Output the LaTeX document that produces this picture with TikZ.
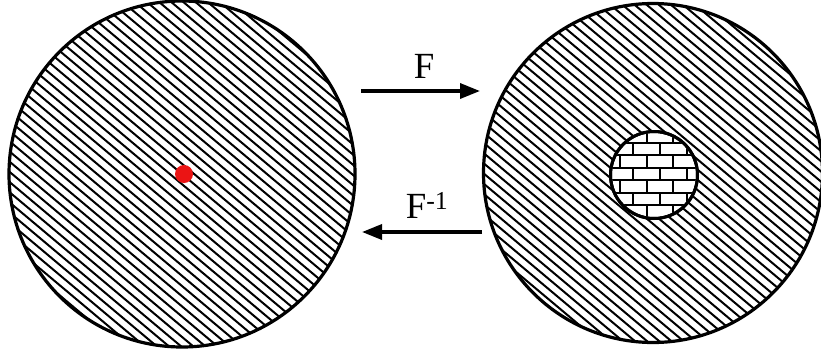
\documentclass[tikz,border=0pt]{standalone}
\usepackage{fontspec}
\setmainfont{Liberation Serif}
\usepackage{tikz}
\usetikzlibrary{arrows.meta}
\definecolor{dotred}{RGB}{235,20,20}

\begin{document}
\begin{tikzpicture}[x=1bp, y=-1bp,
    disc/.style={draw, circle, line width=3.2bp, inner sep=0pt},
    hatch/.style={line width=2bp},
    brick/.style={line width=2bp},
    arr/.style={line width=3.4bp, -{Triangle[length=20bp, width=15bp]}},
    lbl/.style={anchor=base, font=\fontsize{37}{42}\selectfont}]
    \useasboundingbox (0,0) rectangle (821,358);

    % hatching of both discs
    \foreach \cx/\cy/\rr in {182/174/173, 653/173/169.5} {
        \begin{scope}
            \clip (\cx,\cy) circle (\rr);
            \begin{scope}[shift={(\cx,\cy)}, rotate=-40]
                \foreach \k in {-23,...,23}
                    \draw[hatch] (-200,7.8*\k) -- (200,7.8*\k);
            \end{scope}
        \end{scope}
    }

    \node[disc, minimum size=346bp] (domain) at (182,174) {};
    \node[disc, minimum size=339bp] (image) at (653,173) {};
    \node[draw, circle, line width=3bp, fill=white, minimum size=87bp, inner sep=0pt] (hole) at (654,175) {};
    \node[circle, fill=dotred, minimum size=18bp, inner sep=0pt] (pt) at (184,174) {};

    % bricks inside the hole
    \begin{scope}
        \clip (hole.center) circle (42bp);
        \foreach \r in {0,...,7} {
            \pgfmathsetmacro{\yy}{130.2+12.5*\r}
            \pgfmathsetmacro{\sh}{mod(\r+1,2)*13.35}
            \draw[brick] (600,\yy) -- (710,\yy);
            \foreach \j in {-2,...,3}
                \draw[brick] ({633.3+26.7*\j-\sh},\yy) -- ++(0,12.5);
        }
    \end{scope}
    \node[draw, circle, line width=3bp, minimum size=87bp, inner sep=0pt] at (hole.center) {};

    \coordinate (fwdA) at (361,91);
    \coordinate (fwdB) at (480,91);
    \coordinate (invA) at (482,232);
    \coordinate (invB) at (362,232);
    \draw[arr] (fwdA) -- (fwdB);
    \draw[arr] (invA) -- (invB);

    \node[lbl] (fwd) at (424,78) {F};
    \node[lbl] (inv) at (427,218) {F\textsuperscript{-1}};
\end{tikzpicture}
\end{document}
